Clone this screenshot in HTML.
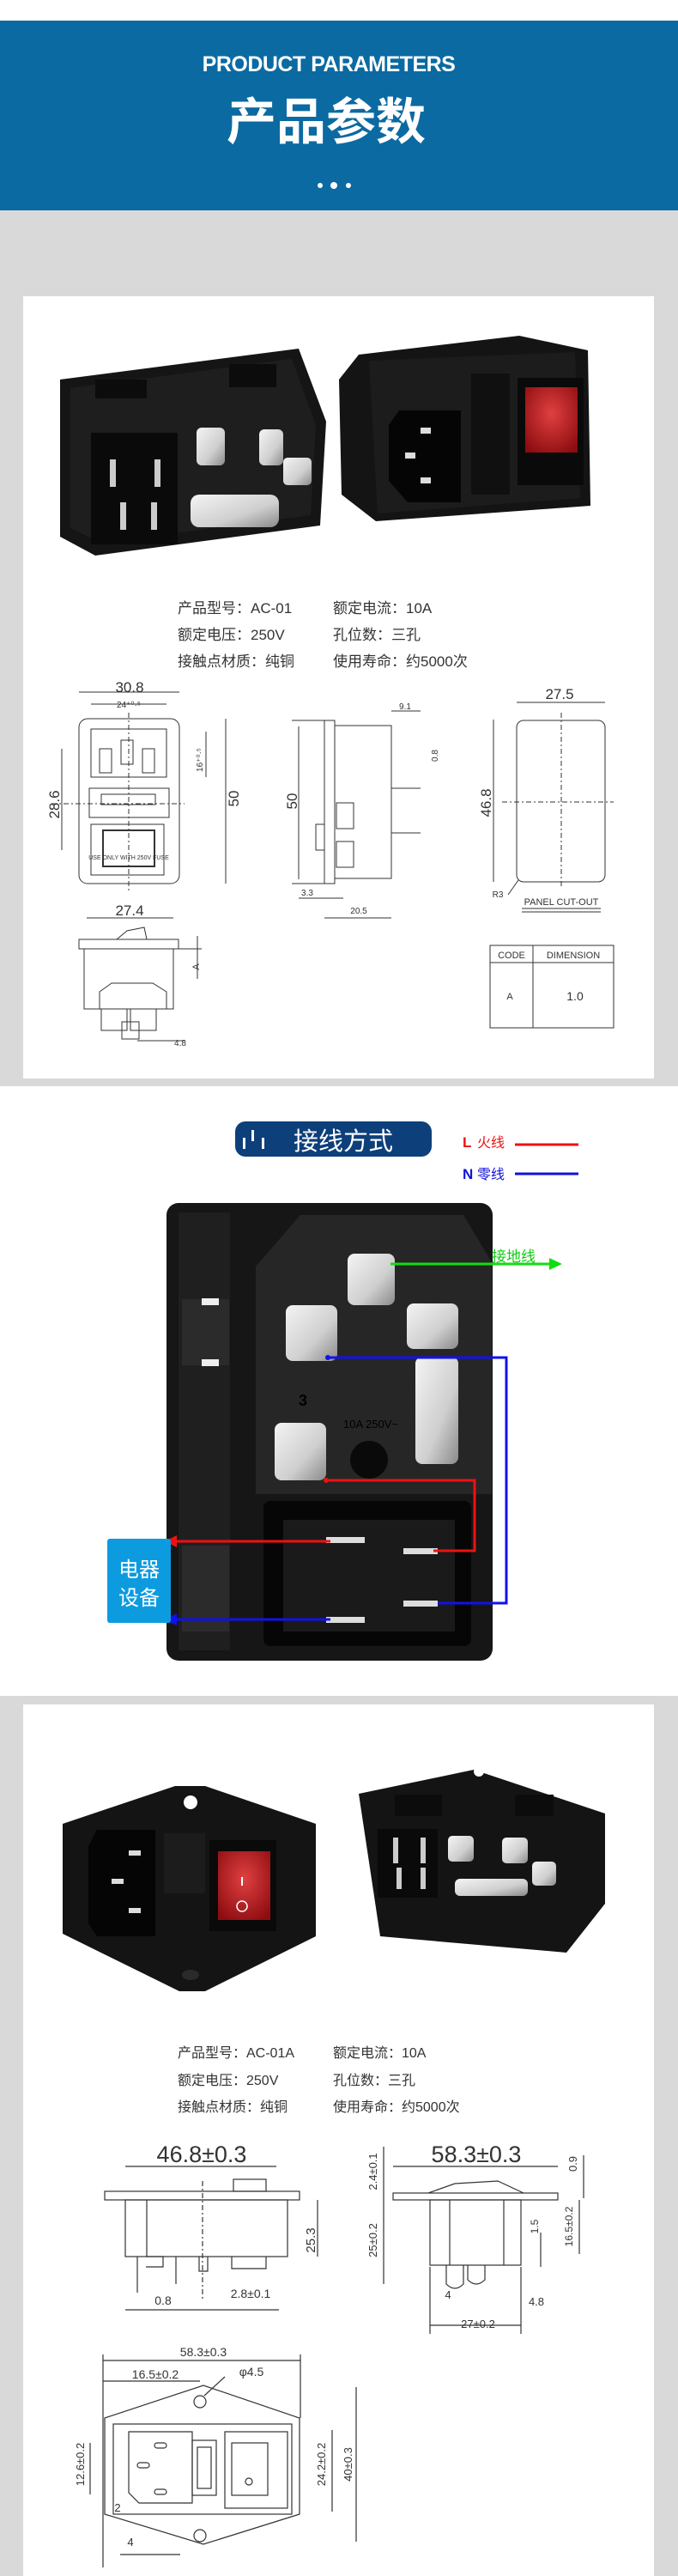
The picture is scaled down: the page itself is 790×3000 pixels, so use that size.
<!DOCTYPE html>
<html><head><meta charset="utf-8"><style>
html,body{margin:0;padding:0;background:#fff;}
svg{display:block;font-family:"Liberation Sans","Noto Sans CJK SC",sans-serif;}
</style></head><body>
<svg width="790" height="3000" viewBox="0 0 790 3000" xmlns="http://www.w3.org/2000/svg">
<defs>
<linearGradient id="met" x1="0" y1="0" x2="1" y2="1"><stop offset="0" stop-color="#f4f4f4"/><stop offset="0.6" stop-color="#cfcfcf"/><stop offset="1" stop-color="#8a8a8a"/></linearGradient>
<radialGradient id="red" cx="0.5" cy="0.4" r="0.7"><stop offset="0" stop-color="#e04040"/><stop offset="1" stop-color="#8c0c10"/></radialGradient>
</defs>
<rect x="0" y="0" width="790" height="3000" fill="#d9d9d9"/>
<rect x="0" y="0" width="790" height="24" fill="#fff"/>
<rect x="0" y="24" width="790" height="221" fill="#0b6aa2"/>
<text x="383" y="83" font-size="25" font-weight="bold" fill="#fff" text-anchor="middle" letter-spacing="-0.5">PRODUCT PARAMETERS</text>
<text x="380" y="162" font-size="58" font-weight="bold" fill="#fff" text-anchor="middle">产品参数</text>
<circle cx="373" cy="216" r="3" fill="#fff"/><circle cx="389" cy="216" r="4" fill="#fff"/><circle cx="406" cy="216" r="3" fill="#fff"/>

<!-- panel 1 -->
<rect x="27" y="345" width="735" height="911" fill="#fff"/>
<!-- left photo -->
<polygon points="70,442 348,406 380,491 373,612 111,647 70,625" fill="#151515"/>
<polygon points="82,452 340,418 368,495 362,600 118,632 82,615" fill="#1e1e1e"/>
<rect x="111" y="442" width="60" height="22" fill="#0c0c0c"/><rect x="267" y="424" width="55" height="27" fill="#0c0c0c"/>
<rect x="106" y="504" width="101" height="130" fill="#0a0a0a"/>
<rect x="128" y="535" width="7" height="32" fill="#ccc"/><rect x="180" y="535" width="7" height="32" fill="#ccc"/>
<rect x="140" y="585" width="7" height="32" fill="#ccc"/><rect x="176" y="585" width="7" height="32" fill="#ccc"/>
<rect x="229" y="498" width="33" height="44" rx="6" fill="url(#met)"/><rect x="302" y="500" width="28" height="42" rx="6" fill="url(#met)"/>
<rect x="330" y="533" width="33" height="32" rx="5" fill="url(#met)"/>
<rect x="222" y="576" width="103" height="38" rx="10" fill="url(#met)"/>
<!-- right photo -->
<polygon points="395,442 418,413 605,391 685,408 688,589 438,607 398,576" fill="#141414"/>
<polygon points="430,420 670,410 676,580 440,598" fill="#1c1c1c"/>
<polygon points="465,478 537,478 537,585 475,585 453,560 453,495" fill="#050505"/>
<rect x="490" y="498" width="12" height="7" fill="#ddd"/><rect x="472" y="527" width="12" height="7" fill="#ddd"/><rect x="490" y="556" width="12" height="7" fill="#ddd"/>
<rect x="549" y="435" width="45" height="141" fill="#101010"/>
<rect x="603" y="440" width="77" height="125" fill="#0a0a0a"/>
<rect x="612" y="451" width="61" height="76" fill="url(#red)"/>
<!-- specs -->
<g font-size="17" fill="#333">
<text x="207" y="714">产品型号：AC-01</text><text x="388" y="714">额定电流：10A</text>
<text x="207" y="745">额定电压：250V</text><text x="388" y="745">孔位数：三孔</text>
<text x="207" y="776">接触点材质：纯铜</text><text x="388" y="776">使用寿命：约5000次</text>
</g>
<g fill="none" stroke="#333" stroke-width="1">
<rect x="92" y="837" width="117" height="192" rx="10"/>
<path d="M106 849 H194 V905 H106 Z"/>
<rect x="116" y="872" width="14" height="28"/><rect x="141" y="862" width="14" height="28"/><rect x="166" y="872" width="14" height="28"/>
<rect x="104" y="918" width="93" height="34"/><rect x="118" y="925" width="63" height="12"/>
<rect x="106" y="960" width="85" height="59"/><rect x="120" y="967" width="60" height="42" stroke-width="2"/>
<line x1="92" y1="806" x2="209" y2="806"/><line x1="106" y1="820" x2="194" y2="820"/>
<line x1="263" y1="837" x2="263" y2="1029"/><line x1="72" y1="872" x2="72" y2="990"/>
<line x1="240" y1="852" x2="240" y2="905"/>
<line x1="60" y1="936" x2="215" y2="936" stroke-dasharray="6 3 2 3"/>
<line x1="150" y1="830" x2="150" y2="1040" stroke-dasharray="6 3 2 3"/>
<rect x="378" y="839" width="12" height="190"/><rect x="390" y="845" width="66" height="178"/>
<rect x="392" y="935" width="20" height="30"/><rect x="392" y="980" width="20" height="30"/>
<rect x="368" y="960" width="10" height="30"/>
<line x1="348" y1="846" x2="348" y2="1024"/><line x1="340" y1="839" x2="378" y2="839"/><line x1="340" y1="1029" x2="378" y2="1029"/>
<line x1="456" y1="918" x2="490" y2="918"/><line x1="456" y1="970" x2="490" y2="970"/>
<line x1="456" y1="828" x2="490" y2="828"/><line x1="378" y1="1069" x2="456" y2="1069"/>
<line x1="348" y1="1046" x2="400" y2="1046"/>
<rect x="602" y="839" width="103" height="188" rx="8"/>
<line x1="602" y1="818" x2="705" y2="818"/><line x1="575" y1="838" x2="575" y2="1027"/>
<line x1="585" y1="934" x2="715" y2="934" stroke-dasharray="6 3 2 3"/>
<line x1="654" y1="830" x2="654" y2="1035" stroke-dasharray="6 3 2 3"/>
<line x1="608" y1="1058" x2="700" y2="1058"/><line x1="608" y1="1062" x2="700" y2="1062"/>
<line x1="592" y1="1042" x2="604" y2="1025"/>
<rect x="571" y="1101" width="144" height="96"/><line x1="571" y1="1121" x2="715" y2="1121"/><line x1="621" y1="1101" x2="621" y2="1197"/>
<line x1="101" y1="1069" x2="202" y2="1069"/>
<path d="M136 1094 L148 1084 L168 1080 L171 1094"/>
<rect x="92" y="1094" width="116" height="11"/>
<rect x="98" y="1105" width="104" height="70"/>
<path d="M116 1175 V1155 L130 1145 H178 L194 1155 V1175"/>
<rect x="118" y="1175" width="30" height="25"/><rect x="152" y="1175" width="30" height="25"/>
<rect x="142" y="1190" width="20" height="20"/>
<line x1="160" y1="1212" x2="215" y2="1212"/>
<line x1="230" y1="1090" x2="230" y2="1140"/><line x1="208" y1="1105" x2="235" y2="1105"/>
</g>
<g font-size="17" fill="#333" text-anchor="middle">
<text x="151" y="806">30.8</text>
<text x="150" y="824" font-size="10">24⁺⁰·⁵</text>
<text transform="translate(69,937) rotate(-90)">28.6</text>
<text transform="translate(278,930) rotate(-90)">50</text>
<text transform="translate(236,885) rotate(-90)" font-size="10">16⁺⁰·⁵</text>
<text x="150" y="1001" font-size="7">USE ONLY WITH 250V FUSE</text>
<text transform="translate(346,933) rotate(-90)">50</text>
<text x="472" y="826" font-size="10">9.1</text>
<text transform="translate(510,880) rotate(-90)" font-size="10">0.8</text>
<text x="358" y="1043" font-size="10">3.3</text>
<text x="418" y="1064" font-size="10">20.5</text>
<text x="652" y="814">27.5</text>
<text transform="translate(572,935) rotate(-90)">46.8</text>
<text x="580" y="1045" font-size="10">R3</text>
<text x="654" y="1054" font-size="11">PANEL CUT-OUT</text>
<text x="596" y="1116" font-size="11">CODE</text>
<text x="668" y="1116" font-size="11">DIMENSION</text>
<text x="594" y="1164" font-size="11">A</text>
<text x="670" y="1165" font-size="14">1.0</text>
<text x="151" y="1066">27.4</text>
<text transform="translate(232,1126) rotate(-90)" font-size="11">A</text>
<text x="210" y="1218" font-size="10">4.8</text>
</g>

<!-- panel 2 -->
<rect x="0" y="1265" width="790" height="710" fill="#fff"/>
<rect x="274" y="1306" width="229" height="41" rx="12" fill="#0d3f7a"/>
<rect x="283" y="1325" width="3" height="13" fill="#fff"/><rect x="293" y="1316" width="3" height="13" fill="#fff"/><rect x="305" y="1325" width="3" height="13" fill="#fff"/>
<text x="342" y="1339" font-size="29" fill="#fff">接线方式</text>
<text x="539" y="1336" font-size="17" fill="#e11" font-weight="bold">L</text><text x="556" y="1336" font-size="16" fill="#e11">火线</text>
<line x1="600" y1="1333" x2="674" y2="1333" stroke="#e11" stroke-width="3"/>
<text x="539" y="1373" font-size="17" fill="#11d" font-weight="bold">N</text><text x="556" y="1373" font-size="16" fill="#11d">零线</text>
<line x1="600" y1="1367" x2="674" y2="1367" stroke="#11d" stroke-width="3"/>
<rect x="194" y="1401" width="380" height="533" rx="14" fill="#161616"/>
<rect x="208" y="1412" width="60" height="510" fill="#1f1f1f"/>
<rect x="212" y="1513" width="55" height="77" fill="#2b2b2b"/><rect x="212" y="1800" width="55" height="100" fill="#2b2b2b"/>
<rect x="235" y="1512" width="20" height="8" fill="#eee"/><rect x="235" y="1583" width="20" height="8" fill="#eee"/>
<polygon points="298,1475 350,1415 540,1415 573,1470 573,1740 298,1740" fill="#262626"/>
<rect x="405" y="1460" width="55" height="60" rx="8" fill="url(#met)"/>
<rect x="333" y="1520" width="60" height="65" rx="8" fill="url(#met)"/>
<rect x="474" y="1518" width="60" height="53" rx="8" fill="url(#met)"/>
<rect x="484" y="1580" width="50" height="125" rx="8" fill="url(#met)"/>
<rect x="320" y="1657" width="60" height="67" rx="8" fill="url(#met)"/>
<circle cx="430" cy="1700" r="22" fill="#0a0a0a"/>
<text x="348" y="1637" font-size="18" fill="#000" font-weight="bold">3</text>
<text x="400" y="1663" font-size="13" fill="#000">10A 250V~</text>
<rect x="307" y="1748" width="242" height="169" rx="8" fill="#060606"/>
<rect x="330" y="1770" width="200" height="130" fill="#1a1a1a"/>
<rect x="380" y="1790" width="45" height="7" fill="#ddd"/><rect x="470" y="1803" width="40" height="7" fill="#ddd"/>
<rect x="470" y="1864" width="40" height="7" fill="#ddd"/><rect x="380" y="1883" width="45" height="7" fill="#ddd"/>
<g fill="none" stroke-width="3">
<path d="M455 1472 H645" stroke="#1d1"/>
<path d="M382 1581 H590 V1867 H510" stroke="#11e"/>
<path d="M380 1724 H553 V1806 H505" stroke="#e11"/>
<path d="M385 1795 H200" stroke="#e11"/>
<path d="M385 1886 H200" stroke="#11e"/>
</g>
<polygon points="655,1472 640,1465 640,1479" fill="#1d1"/>
<polygon points="192,1795 206,1788 206,1802" fill="#e11"/>
<polygon points="192,1886 206,1879 206,1893" fill="#11e"/>
<circle cx="382" cy="1581" r="3" fill="#11e"/><circle cx="380" cy="1724" r="3" fill="#e11"/>
<text x="573" y="1469" font-size="17" fill="#1c1">接地线</text>
<rect x="125" y="1792" width="74" height="98" fill="#0d9be0" rx="3"/>
<text x="162" y="1836" font-size="24" fill="#fff" text-anchor="middle">电器</text>
<text x="162" y="1869" font-size="24" fill="#fff" text-anchor="middle">设备</text>

<!-- panel 3 -->
<rect x="27" y="1985" width="735" height="1015" fill="#fff"/>
<polygon points="73,2124 204,2080 239,2080 368,2124 368,2255 239,2319 209,2319 73,2252" fill="#141414"/>
<circle cx="222" cy="2099" r="8" fill="#fff"/>
<ellipse cx="222" cy="2300" rx="10" ry="6" fill="#2a2a2a"/>
<polygon points="113,2131 181,2131 181,2255 113,2255 103,2240 103,2150" fill="#050505"/>
<rect x="150" y="2155" width="14" height="6" fill="#ddd"/><rect x="130" y="2188" width="14" height="6" fill="#ddd"/><rect x="150" y="2222" width="14" height="6" fill="#ddd"/>
<rect x="191" y="2135" width="48" height="70" fill="#1c1c1c"/>
<rect x="244" y="2143" width="78" height="106" fill="#0a0a0a"/>
<rect x="254" y="2156" width="61" height="80" fill="url(#red)"/>
<circle cx="282" cy="2220" r="6" fill="none" stroke="#fff" stroke-width="1.5"/>
<rect x="281" y="2186" width="2" height="10" fill="#fff"/>
<polygon points="418,2089 552,2061 705,2112 705,2217 660,2274 443,2255" fill="#141414"/>
<circle cx="558" cy="2063" r="6" fill="#fff"/>
<rect x="460" y="2090" width="55" height="25" fill="#0c0c0c"/><rect x="600" y="2090" width="45" height="25" fill="#0c0c0c"/>
<rect x="440" y="2130" width="70" height="80" fill="#0a0a0a"/>
<rect x="458" y="2140" width="6" height="30" fill="#ccc"/><rect x="490" y="2140" width="6" height="30" fill="#ccc"/>
<rect x="462" y="2175" width="6" height="25" fill="#ccc"/><rect x="490" y="2175" width="6" height="25" fill="#ccc"/>
<rect x="522" y="2138" width="30" height="30" rx="5" fill="url(#met)"/><rect x="585" y="2140" width="30" height="30" rx="5" fill="url(#met)"/>
<rect x="620" y="2168" width="28" height="28" rx="5" fill="url(#met)"/><rect x="530" y="2188" width="85" height="20" rx="6" fill="url(#met)"/>
<g font-size="16" fill="#333">
<text x="207" y="2396">产品型号：AC-01A</text><text x="388" y="2396">额定电流：10A</text>
<text x="207" y="2428">额定电压：250V</text><text x="388" y="2428">孔位数：三孔</text>
<text x="207" y="2459">接触点材质：纯铜</text><text x="388" y="2459">使用寿命：约5000次</text>
</g>
<g fill="none" stroke="#333" stroke-width="1.2">
<line x1="146" y1="2523" x2="322" y2="2523"/>
<rect x="122" y="2552" width="227" height="10"/>
<rect x="272" y="2538" width="38" height="14"/>
<rect x="146" y="2562" width="189" height="66"/>
<line x1="171" y1="2562" x2="171" y2="2628"/>
<line x1="236" y1="2540" x2="236" y2="2680" stroke-dasharray="6 3 2 3"/>
<path d="M160 2628 V2670 M170 2628 H190 V2640 H170 M205 2628 V2660 M232 2628 V2645 H242 V2628 M270 2628 V2642 H310 V2628"/>
<line x1="370" y1="2562" x2="370" y2="2628"/><line x1="146" y1="2690" x2="325" y2="2690"/>
<line x1="458" y1="2523" x2="650" y2="2523"/>
<rect x="458" y="2554" width="192" height="8"/>
<path d="M499 2554 L530 2543 L580 2540 L610 2554"/>
<rect x="501" y="2562" width="106" height="76"/>
<line x1="524" y1="2562" x2="524" y2="2638"/><line x1="587" y1="2562" x2="587" y2="2638"/>
<path d="M520 2638 V2660 Q530 2670 540 2660 V2638 M545 2638 V2655 Q555 2665 565 2655 V2638"/>
<line x1="447" y1="2500" x2="447" y2="2660"/><line x1="680" y1="2510" x2="680" y2="2560"/>
<line x1="675" y1="2562" x2="675" y2="2625"/><line x1="630" y1="2600" x2="630" y2="2640"/>
<line x1="501" y1="2708" x2="607" y2="2708"/>
<line x1="501" y1="2640" x2="501" y2="2718"/><line x1="607" y1="2640" x2="607" y2="2718"/>
<line x1="120" y1="2749" x2="350" y2="2749"/><line x1="120" y1="2773" x2="233" y2="2773"/>
<polygon points="122,2816 237,2778 349,2816 349,2928 237,2963 122,2928"/>
<circle cx="233" cy="2797" r="7"/><circle cx="233" cy="2953" r="7"/>
<rect x="132" y="2823" width="208" height="105"/>
<path d="M150 2832 H224 V2915 H162 L150 2903 Z"/>
<rect x="224" y="2842" width="28" height="64"/><rect x="230" y="2850" width="16" height="48"/>
<rect x="262" y="2832" width="73" height="89"/><rect x="270" y="2845" width="42" height="61"/>
<circle cx="290" cy="2890" r="4"/>
<rect x="180" y="2845" width="14" height="6" rx="3"/><rect x="160" y="2868" width="14" height="6" rx="3"/><rect x="180" y="2899" width="14" height="6" rx="3"/>
<line x1="120" y1="2742" x2="120" y2="2990"/><line x1="350" y1="2742" x2="350" y2="2816"/>
<line x1="105" y1="2845" x2="105" y2="2905"/><line x1="387" y1="2830" x2="387" y2="2925"/><line x1="415" y1="2780" x2="415" y2="2960"/>
<line x1="140" y1="2975" x2="210" y2="2975"/><line x1="262" y1="2768" x2="238" y2="2790"/>
</g>
<g fill="#333" text-anchor="middle">
<text x="235" y="2518" font-size="27">46.8±0.3</text>
<text transform="translate(367,2609) rotate(-90)" font-size="15">25.3</text>
<text x="190" y="2684" font-size="14">0.8</text>
<text x="292" y="2676" font-size="14">2.8±0.1</text>
<text x="555" y="2518" font-size="27">58.3±0.3</text>
<text transform="translate(439,2529) rotate(-90)" font-size="13">2.4±0.1</text>
<text transform="translate(439,2609) rotate(-90)" font-size="13">25±0.2</text>
<text transform="translate(672,2520) rotate(-90)" font-size="13">0.9</text>
<text transform="translate(667,2593) rotate(-90)" font-size="12">16.5±0.2</text>
<text transform="translate(627,2593) rotate(-90)" font-size="12">1.5</text>
<text x="522" y="2677" font-size="13">4</text>
<text x="625" y="2685" font-size="13">4.8</text>
<text x="557" y="2711" font-size="13">27±0.2</text>
<text x="237" y="2744" font-size="14">58.3±0.3</text>
<text x="181" y="2770" font-size="14">16.5±0.2</text>
<text x="293" y="2767" font-size="14">φ4.5</text>
<text transform="translate(98,2870) rotate(-90)" font-size="13">12.6±0.2</text>
<text transform="translate(379,2870) rotate(-90)" font-size="13">24.2±0.2</text>
<text transform="translate(410,2870) rotate(-90)" font-size="13">40±0.3</text>
<text x="137" y="2925" font-size="13">2</text>
<text x="152" y="2965" font-size="13">4</text>
</g>
</svg>
</body></html>
